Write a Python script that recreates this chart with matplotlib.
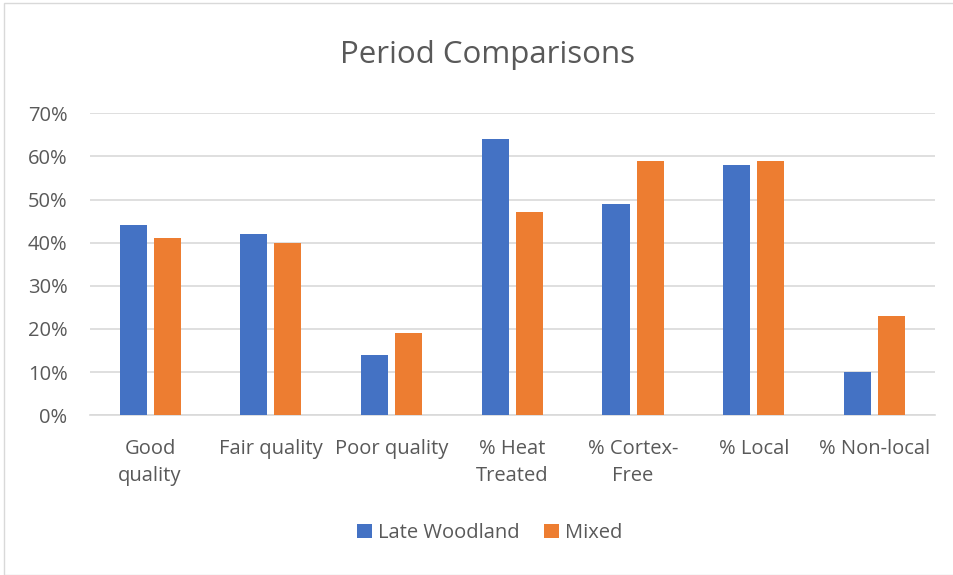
import matplotlib
matplotlib.use("Agg")
import matplotlib.pyplot as plt
import numpy as np
from matplotlib.patches import Rectangle

categories = ["Good\nquality", "Fair quality", "Poor quality", "% Heat\nTreated",
              "% Cortex-\nFree", "% Local", "% Non-local"]
late_woodland = [0.44, 0.42, 0.14, 0.64, 0.49, 0.58, 0.10]
mixed = [0.41, 0.40, 0.19, 0.47, 0.59, 0.59, 0.23]
yticks = [0, 0.1, 0.2, 0.3, 0.4, 0.5, 0.6, 0.7]
ytick_labels = ["0%", "10%", "20%", "30%", "40%", "50%", "60%", "70%"]

plt.rcParams['font.family'] = ['Open Sans', 'DejaVu Sans']
txt = "#595959"

fig = plt.figure(figsize=(9.54, 5.75), dpi=100)
fig.patches.append(Rectangle((0.004, 0.0), 0.996, 0.995, transform=fig.transFigure,
                             fill=False, edgecolor="#d9d9d9", linewidth=1))
ax = fig.add_axes([0.094, 0.278, 0.886, 0.525])

x = np.arange(len(categories))
w = 0.224
off = 0.141
ax.bar(x - off, late_woodland, w, color="#4472C4", label="Late Woodland", zorder=3)
ax.bar(x + off, mixed, w, color="#ED7D31", label="Mixed", zorder=3)

ax.set_xlim(-0.5, len(categories) - 0.5)
ax.set_ylim(0, 0.7)
ax.set_yticks(yticks)
ax.set_yticklabels(ytick_labels, color=txt, fontsize=14.5)
ax.set_xticks(x)
ax.set_xticklabels(categories, color=txt, fontsize=14.5, linespacing=1.45, va="top")
ax.tick_params(axis="both", length=0)
ax.tick_params(axis="x", pad=17)
ax.tick_params(axis="y", pad=16)
ax.grid(axis="y", color="#d9d9d9", linewidth=1.2, zorder=0)
for s in ["top", "right", "left"]:
    ax.spines[s].set_visible(False)
ax.spines["bottom"].set_color("#d9d9d9")
ax.spines["bottom"].set_linewidth(1.2)

fig.text(0.511, 0.905, "Period Comparisons", ha="center", va="center",
         fontsize=22.5, color=txt)

leg = fig.legend(loc="center", bbox_to_anchor=(0.513, 0.073), ncol=2, frameon=False,
                 fontsize=14.5, handlelength=0.75, handleheight=0.75, handletextpad=0.3,
                 columnspacing=1.2)
for t in leg.get_texts():
    t.set_color(txt)

fig.savefig("out.png", dpi=100)
